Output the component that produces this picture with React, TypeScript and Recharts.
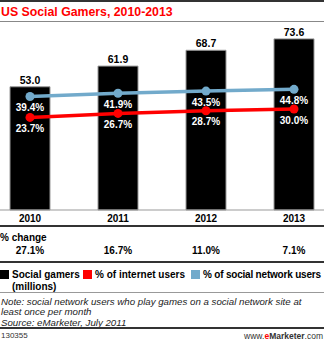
import React from "react"
import { Bar, ComposedChart, LabelList, Line, XAxis, YAxis } from "recharts"

const years = ["2010", "2011", "2012", "2013"]
const socialGamers = [53.0, 61.9, 68.7, 73.6]
const pctInternetUsers = [23.7, 26.7, 28.7, 30.0]
const pctSocialNetworkUsers = [39.4, 41.9, 43.5, 44.8]
const pctChange = ["27.1%", "16.7%", "11.0%", "7.1%"]

const data = years.map((year, i) => ({
    year,
    gamers: socialGamers[i],
    internet: pctInternetUsers[i],
    social: pctSocialNetworkUsers[i],
    change: pctChange[i],
}))

const RED = "#ff0000"
const BLUE = "#72aacb"
const FONT = "'Liberation Sans', Arial, Helvetica, sans-serif"

// tick y already includes tickSize + tickMargin (8px) below the axis line
const YearTick = ({ x, y, payload }: any) => (
    <text x={x} y={y} textAnchor="middle" dominantBaseline="central" fontSize={10} fontWeight="bold" fill="#000">
        {payload.value}
    </text>
)

const ChangeTick = ({ x, y, payload }: any) => (
    <text x={x} y={y + 16} textAnchor="middle" dominantBaseline="central" fontSize={10} fontWeight="bold" fill="#000">
        {payload.value}
    </text>
)

const BarValueLabel = ({ x, y, width, value }: any) => (
    <text x={x + width / 2} y={y - 7} textAnchor="middle" dominantBaseline="central" fontSize={10.5} fontWeight="bold" fill="#000">
        {Number(value).toFixed(1)}
    </text>
)

const PctLabel = ({ x, y, value }: any) => (
    <text x={x} y={y + 11} textAnchor="middle" dominantBaseline="central" fontSize={10} fontWeight="bold" fill="#fff">
        {Number(value).toFixed(1)}%
    </text>
)

const hr = (top: number, h: number, color: string): React.CSSProperties => ({
    position: "absolute",
    left: 0,
    top,
    width: 324,
    height: h,
    background: color,
})

const swatch = (left: number, color: string): React.CSSProperties => ({
    position: "absolute",
    left,
    top: 270,
    width: 9,
    height: 9,
    background: color,
})

const legendText = (left: number, top: number): React.CSSProperties => ({
    position: "absolute",
    left,
    top,
    fontSize: 10,
    fontWeight: "bold",
    lineHeight: "11px",
    whiteSpace: "nowrap",
})

export default function App() {
    return (
        <div
            style={{
                position: "absolute",
                left: 0,
                top: 0,
                width: 324,
                height: 341,
                overflow: "hidden",
                background: "#fff",
                fontFamily: FONT,
                color: "#000",
            }}
        >
            <div style={hr(0, 2, "#333")} />
            <div
                style={{
                    position: "absolute",
                    left: 1,
                    top: 4,
                    fontSize: 12.3,
                    fontWeight: "bold",
                    color: RED,
                    lineHeight: "16px",
                    whiteSpace: "nowrap",
                }}
            >
                US Social Gamers, 2010-2013
            </div>
            <div style={hr(21, 1, "#888")} />

            <div style={{ position: "absolute", left: -14, top: 0 }}>
                <ComposedChart width={352} height={262} data={data} margin={{ top: 24, right: 0, bottom: 0, left: 0 }}>
                    <XAxis
                        dataKey="year"
                        height={16}
                        axisLine={{ stroke: "#999", strokeWidth: 1 }}
                        tickLine={false}
                        tick={<YearTick />}
                        interval={0}
                    />
                    <XAxis
                        xAxisId="change"
                        dataKey="change"
                        height={36}
                        axisLine={{ stroke: "#333", strokeWidth: 2 }}
                        tickLine={false}
                        tick={<ChangeTick />}
                        interval={0}
                    />
                    <YAxis yAxisId="gamers" hide domain={[0, 80]} />
                    <YAxis yAxisId="pct" hide domain={[-46, 94]} />
                    <Bar
                        yAxisId="gamers"
                        dataKey="gamers"
                        fill="#000"
                        stroke="#999"
                        strokeWidth={1}
                        barSize={40}
                        isAnimationActive={false}
                    >
                        <LabelList dataKey="gamers" content={<BarValueLabel />} />
                    </Bar>
                    <Line
                        yAxisId="pct"
                        dataKey="social"
                        stroke={BLUE}
                        strokeWidth={3.5}
                        dot={{ r: 4.5, fill: BLUE, stroke: BLUE, strokeWidth: 0 }}
                        isAnimationActive={false}
                    >
                        <LabelList dataKey="social" content={<PctLabel />} />
                    </Line>
                    <Line
                        yAxisId="pct"
                        dataKey="internet"
                        stroke={RED}
                        strokeWidth={3.5}
                        dot={{ r: 4.5, fill: RED, stroke: RED, strokeWidth: 0 }}
                        isAnimationActive={false}
                    >
                        <LabelList dataKey="internet" content={<PctLabel />} />
                    </Line>
                </ComposedChart>
            </div>

            <div style={legendText(0, 232)}>% change</div>

            <div style={hr(261, 2, "#333")} />
            <div style={swatch(0, "#000")} />
            <div style={legendText(12, 269)}>Social gamers</div>
            <div style={legendText(12, 281)}>(millions)</div>
            <div style={swatch(83, RED)} />
            <div style={legendText(95, 269)}>% of internet users</div>
            <div style={swatch(191, BLUE)} />
            <div style={{ ...legendText(203, 269), letterSpacing: -0.2 }}>% of social network users</div>

            <div style={hr(292, 1, "#999")} />
            <div
                style={{
                    position: "absolute",
                    left: 1,
                    top: 297,
                    width: 320,
                    fontSize: 9.7,
                    fontStyle: "italic",
                    lineHeight: "10.3px",
                    color: "#222",
                    whiteSpace: "nowrap",
                }}
            >
                Note: social network users who play games on a social network site at
                <br />
                least once per month
                <br />
                Source: eMarketer, July 2011
            </div>
            <div style={hr(327, 2, "#333")} />
            <div style={{ position: "absolute", left: 1, top: 331, fontSize: 8, lineHeight: "10px", color: "#333" }}>130355</div>
            <div
                style={{
                    position: "absolute",
                    right: 1,
                    top: 331,
                    fontSize: 8.5,
                    lineHeight: "10px",
                    color: "#333",
                    whiteSpace: "nowrap",
                }}
            >
                www.
                <span style={{ color: RED, fontWeight: "bold" }}>e</span>
                <span style={{ fontWeight: "bold" }}>Marketer</span>.com
            </div>
        </div>
    )
}
